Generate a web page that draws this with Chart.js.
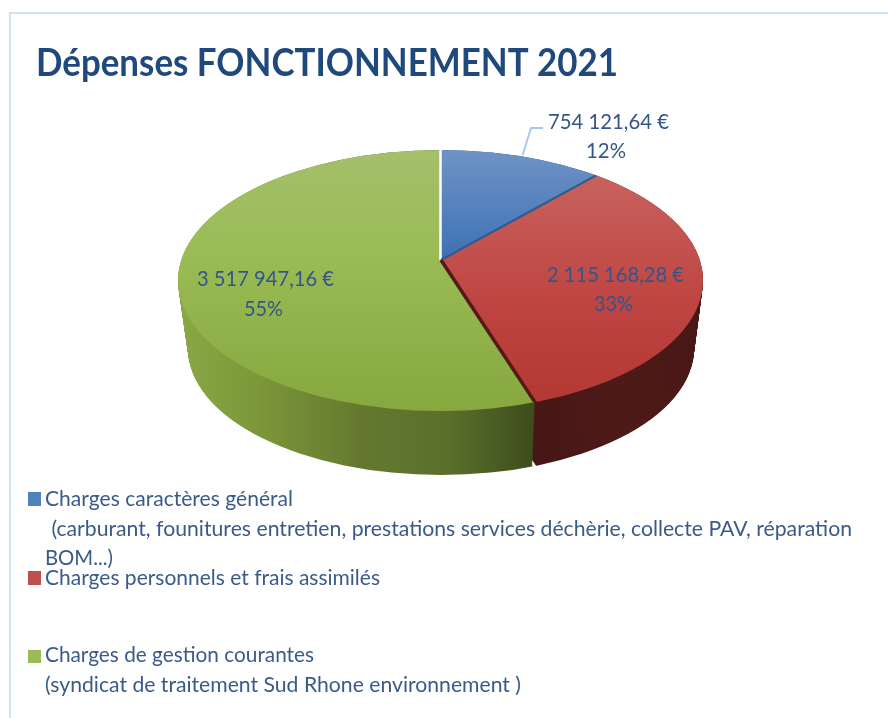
<!DOCTYPE html>
<html>
<head>
<meta charset="utf-8">
<style>
  html, body { margin: 0; padding: 0; background: #fff; }
  canvas { display: block; filter: blur(0.4px); }
</style>
<script src="https://cdn.jsdelivr.net/npm/chart.js@4"></script>
</head>
<body>
<canvas id="pie" width="888" height="718"></canvas>
<script>
const chartTitle = 'Dépenses FONCTIONNEMENT 2021';
const categories = ['Charges caractères général', 'Charges personnels et frais assimilés', 'Charges de gestion courantes'];
const amounts = [754121.64, 2115168.28, 3517947.16];
const amountLabels = ['754 121,64 €', '2 115 168,28 €', '3 517 947,16 €'];
const percentLabels = ['12%', '33%', '55%'];
const legendNotes = [
    ' (carburant, founitures entretien, prestations services déchèrie, collecte PAV, réparation',
    'BOM...)',
    '(syndicat de traitement Sud Rhone environnement )',
];

const sliceColors = ['#4f81bd', '#c0504d', '#9bbb59'];

// the 3D look: top ellipse, bottom ellipse, and the off-centre point where slices meet
const topFace = { cx: 440.5, cy: 280.5, rx: 262.5, ry: 130.5 };
const bottomFace = { cx: 441, cy: 349, rx: 253, ry: 126 };
const apex = { x: 441, y: 260 };
const rayX = 320, rayY = 160;

const faceStops = [
    [[150, '#6f93c6'], [260, '#3d71b4']],
    [[175, '#c8625e'], [300, '#bf4542'], [402, '#b43834']],
    [[150, '#a5bf6c'], [260, '#9abb54'], [411, '#87a83f']],
];
const wallStops = [
    [[440, '#2c4a75'], [600, '#2c4a75']],
    [[536, '#471715'], [620, '#4e1a18'], [703, '#481715']],
    [[178, '#8ba845'], [260, '#7b9739'], [360, '#64792f'], [450, '#5a6f2a'], [535, '#3c4c1c']],
];
const wallShift = [0, 4, 0];

function interp(t) {
    return {
        cx: topFace.cx + (bottomFace.cx - topFace.cx) * t,
        cy: topFace.cy + (bottomFace.cy - topFace.cy) * t,
        rx: topFace.rx + (bottomFace.rx - topFace.rx) * t,
        ry: topFace.ry + (bottomFace.ry - topFace.ry) * t,
    };
}

function clipEllipse(ctx, e) {
    ctx.beginPath();
    ctx.ellipse(e.cx, e.cy, e.rx, e.ry, 0, 0, Math.PI * 2);
    ctx.clip();
}

// let the library draw the arc, squashed and clipped to the ellipse
function drawSlice(ctx, arc, fill, face, vx, vy) {
    const sx = rayX / arc.outerRadius, sy = rayY / arc.outerRadius;
    const copy = Object.create(arc);
    copy.options = Object.assign({}, arc.options, { backgroundColor: fill, borderWidth: 0 });
    ctx.save();
    clipEllipse(ctx, face);
    ctx.translate(vx, vy);
    ctx.scale(sx, sy);
    ctx.translate(-arc.x, -arc.y);
    Chart.ArcElement.prototype.draw.call(copy, ctx);
    ctx.restore();
}

function faceGradient(ctx, arc, stops) {
    const sy = rayY / arc.outerRadius;
    const y = v => (v - apex.y) / sy + arc.y;
    const g = ctx.createLinearGradient(0, y(stops[0][0]), 0, y(stops[stops.length - 1][0]));
    const span = stops[stops.length - 1][0] - stops[0][0];
    stops.forEach(s => g.addColorStop((s[0] - stops[0][0]) / span, s[1]));
    return g;
}

function wallGradient(ctx, arc, stops) {
    const sx = rayX / arc.outerRadius;
    const x = v => (v - apex.x) / sx + arc.x;
    const g = ctx.createLinearGradient(x(stops[0][0]), 0, x(stops[stops.length - 1][0]), 0);
    const span = stops[stops.length - 1][0] - stops[0][0];
    stops.forEach(s => g.addColorStop((s[0] - stops[0][0]) / span, s[1]));
    return g;
}

function strokeRay(ctx, angle, color, width, dx) {
    ctx.save();
    clipEllipse(ctx, topFace);
    ctx.beginPath();
    ctx.moveTo(apex.x + dx, apex.y);
    ctx.lineTo(apex.x + dx + Math.cos(angle) * rayX, apex.y + Math.sin(angle) * rayY);
    ctx.strokeStyle = color;
    ctx.lineWidth = width;
    ctx.stroke();
    ctx.restore();
}

// text fitted to the width it has in the picture
function fitText(ctx, text, x, baseline, width, font, color) {
    ctx.save();
    ctx.font = font;
    ctx.fillStyle = color;
    ctx.textBaseline = 'alphabetic';
    ctx.textAlign = 'left';
    const measured = ctx.measureText(text).width;
    ctx.translate(x, baseline);
    ctx.scale(width / measured, 1);
    ctx.fillText(text, 0, 0);
    ctx.restore();
}

const pie3d = {
    id: 'pie3d',
    beforeDatasetsDraw(chart) {
        const ctx = chart.ctx;
        const arcs = chart.getDatasetMeta(0).data;

        const walls = arcs.map((arc, i) => wallGradient(ctx, arc, wallStops[i]));
        for (let step = 68; step >= 0; step--) {
            const t = step / 68;
            arcs.forEach((arc, i) => {
                drawSlice(ctx, arc, walls[i], interp(t), apex.x + wallShift[i] * t, apex.y + 68 * t);
            });
        }

        arcs.forEach((arc, i) => {
            drawSlice(ctx, arc, faceGradient(ctx, arc, faceStops[i]), topFace, apex.x, apex.y);
        });

        strokeRay(ctx, arcs[0].startAngle, '#ffffff', 2.5, -0.5);
        strokeRay(ctx, arcs[0].endAngle, '#2f5a8e', 2, 0);
        strokeRay(ctx, arcs[1].endAngle, '#551a17', 3.5, 0);
        return false;
    },
    afterDraw(chart) {
        const ctx = chart.ctx;
        const arcs = chart.getDatasetMeta(0).data;

        // frame
        ctx.strokeStyle = '#cfe0f2';
        ctx.lineWidth = 2;
        ctx.beginPath();
        ctx.moveTo(10, 718);
        ctx.lineTo(10, 13);
        ctx.lineTo(888, 13);
        ctx.stroke();

        fitText(ctx, chartTitle, 36, 76, 582, 'bold 39px Lato', '#1f497d');

        // leader of the small slice, starts where its middle ray leaves the slice
        const mid = (arcs[0].startAngle + arcs[0].endAngle) / 2;
        const reach = (apex.y - 155) / (-Math.sin(mid) * rayY);
        ctx.strokeStyle = '#a9c9ec';
        ctx.lineWidth = 2;
        ctx.beginPath();
        ctx.moveTo(apex.x + Math.cos(mid) * rayX * reach, 155);
        ctx.lineTo(531, 128);
        ctx.lineTo(543, 128);
        ctx.stroke();

        const labelFont = '22px Lato', labelColor = '#34558a';
        fitText(ctx, amountLabels[0], 548, 129, 121, labelFont, labelColor);
        fitText(ctx, percentLabels[0], 586, 158, 40, labelFont, labelColor);
        fitText(ctx, amountLabels[1], 547, 282, 137, labelFont, labelColor);
        fitText(ctx, percentLabels[1], 594, 311, 39, labelFont, labelColor);
        fitText(ctx, amountLabels[2], 197, 286, 137, labelFont, labelColor);
        fitText(ctx, percentLabels[2], 244, 316, 39, labelFont, labelColor);

        const legendFont = '22px Lato', legendColor = '#3a5a8a';
        ctx.fillStyle = sliceColors[0];
        ctx.fillRect(28, 492, 13, 14);
        ctx.fillStyle = sliceColors[1];
        ctx.fillRect(28, 571, 13, 14);
        ctx.fillStyle = sliceColors[2];
        ctx.fillRect(28, 650, 13, 13);
        fitText(ctx, categories[0], 45, 506, 248, legendFont, legendColor);
        fitText(ctx, legendNotes[0], 46, 536, 806, legendFont, legendColor);
        fitText(ctx, legendNotes[1], 45, 565, 68, legendFont, legendColor);
        fitText(ctx, categories[1], 45, 585, 335, legendFont, legendColor);
        fitText(ctx, categories[2], 45, 662, 269, legendFont, legendColor);
        fitText(ctx, legendNotes[2], 45, 692, 476, legendFont, legendColor);
    },
};

new Chart(document.getElementById('pie'), {
    type: 'pie',
    data: {
        labels: categories,
        datasets: [{ data: amounts, backgroundColor: sliceColors, borderWidth: 0 }],
    },
    options: {
        responsive: false,
        animation: false,
        events: [],
        layout: { padding: 0 },
        plugins: { legend: { display: false }, tooltip: { enabled: false } },
    },
    plugins: [pie3d],
});
</script>
</body>
</html>
